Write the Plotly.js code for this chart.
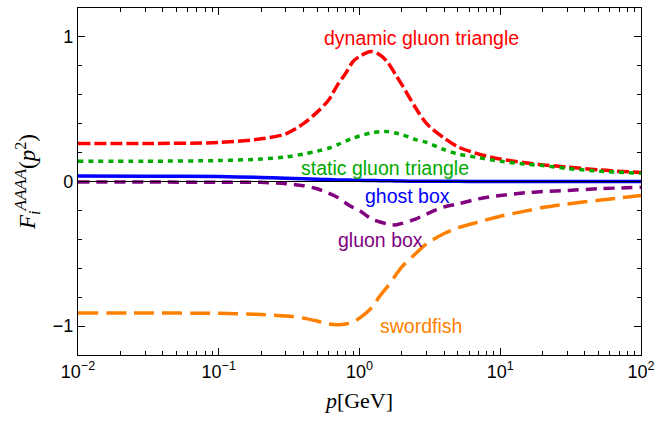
<!DOCTYPE html>
<html>
<head>
<meta charset="utf-8">
<script src="https://cdn.plot.ly/plotly-3.0.1.min.js"></script>
<style>html,body{margin:0;padding:0;background:#fff;}#chart{width:656px;height:422px;}</style>
</head>
<body>
<div id="chart"></div>
<script>
// momentum p [GeV]
const p = [0.01, 0.03, 0.1, 0.2, 0.3, 0.4, 0.5, 0.6, 0.7, 0.8, 0.9, 1.0, 1.2, 1.4, 1.6, 1.8, 2.0, 2.5, 3, 4, 5, 7, 10, 15, 20, 30, 50, 100];

const dynamicGluonTriangle = [0.262, 0.263, 0.27, 0.295, 0.33, 0.40, 0.48, 0.56, 0.67, 0.75, 0.83, 0.865, 0.90, 0.875, 0.82, 0.74, 0.67, 0.51, 0.40, 0.30, 0.24, 0.19, 0.155, 0.13, 0.115, 0.10, 0.08, 0.062];
const staticGluonTriangle = [0.14, 0.14, 0.145, 0.155, 0.17, 0.19, 0.21, 0.23, 0.255, 0.28, 0.30, 0.315, 0.335, 0.345, 0.345, 0.335, 0.325, 0.29, 0.27, 0.22, 0.19, 0.165, 0.14, 0.12, 0.11, 0.09, 0.072, 0.057];
const ghostBox = [0.038, 0.037, 0.034, 0.028, 0.022, 0.019, 0.015, 0.013, 0.011, 0.010, 0.009, 0.008, 0.007, 0.006, 0.005, 0.004, 0.003, 0.002, 0.002, 0.001, 0.001, 0.0, 0.0, 0.0, 0.0, 0.0, 0.0, 0.0];
const gluonBox = [-0.004, -0.004, -0.005, -0.006, -0.015, -0.03, -0.05, -0.08, -0.11, -0.15, -0.18, -0.20, -0.255, -0.28, -0.295, -0.30, -0.29, -0.26, -0.225, -0.175, -0.155, -0.12, -0.097, -0.078, -0.07, -0.062, -0.05, -0.04];
const swordfish = [-0.91, -0.91, -0.912, -0.92, -0.93, -0.945, -0.965, -0.985, -0.99, -0.985, -0.97, -0.945, -0.88, -0.79, -0.72, -0.65, -0.59, -0.50, -0.43, -0.36, -0.32, -0.28, -0.24, -0.205, -0.18, -0.155, -0.13, -0.097];

const seriesNames = ["dynamic gluon triangle", "static gluon triangle", "ghost box", "gluon box", "swordfish"];

const xTickVals = [0.01, 0.1, 1, 10, 100];
const xTickText = ["10<sup>\u22122</sup>", "10<sup>\u22121</sup>", "10<sup>0</sup>", "10<sup>1</sup>", "10<sup>2</sup>"];
const yTickVals = [-1, 0, 1];
const yTickText = ["\u22121", "0", "1"];

const minorX = [];
for (let e = -2; e < 2; e++) for (let m = 2; m <= 9; m++) minorX.push(m * Math.pow(10, e));

const colors = ["rgb(255,0,0)", "rgb(0,170,0)", "rgb(0,0,255)", "rgb(128,0,128)", "rgb(255,128,0)"];
const dashes = ["12px,4px", "5px,5px", "solid", "11px,7px", "20px,8px"];
const widths = [3.5, 3.5, 3.5, 3.5, 3.5];
const ys = [dynamicGluonTriangle, staticGluonTriangle, ghostBox, gluonBox, swordfish];

const traces = ys.map((y, i) => ({
  x: p, y: y, type: "scatter", mode: "lines", name: seriesNames[i],
  line: {color: colors[i], dash: dashes[i], width: widths[i], shape: "spline", smoothing: 0.8},
  hoverinfo: "skip"
}));

const labelPos = [
  {x: 0.437, y: 0.99},
  {x: 0.181, y: 0.093},
  {x: 0.341, y: -0.10},
  {x: 0.146, y: -0.405},
  {x: 0.437, y: -1.0}
];
const annotations = seriesNames.map((t, i) => ({
  text: t, x: labelPos[i].x, y: labelPos[i].y, xref: "x", yref: "y",
  showarrow: false, font: {family: "Liberation Sans, Arial, sans-serif", size: 19.5, color: colors[i]}
}));

const tickFont = {family: "Liberation Sans, Arial, sans-serif", size: 18, color: "black"};

const layout = {
  width: 656, height: 422,
  margin: {l: 78, r: 15, t: 8, b: 67},
  paper_bgcolor: "white", plot_bgcolor: "white",
  showlegend: false,
  xaxis: {
    type: "log", range: [-2, 2],
    tickmode: "array", tickvals: xTickVals, ticktext: xTickText,
    tickfont: tickFont,
    ticks: "inside", ticklen: 7, tickwidth: 1, tickcolor: "black",
    showline: true, linecolor: "black", linewidth: 1.2, mirror: "allticks",
    showgrid: false, zeroline: false,
    minor: {tickmode: "array", tickvals: minorX, ticks: "inside", ticklen: 4, tickwidth: 1, tickcolor: "black", showgrid: false},
    title: {text: "<i>p</i>[GeV]", font: {family: "Liberation Serif, Times New Roman, serif", size: 22, color: "black"}, standoff: 11}
  },
  yaxis: {
    range: [-1.2, 1.2],
    tickmode: "array", tickvals: yTickVals, ticktext: yTickText,
    tickfont: tickFont,
    ticks: "inside", ticklen: 7, tickwidth: 1, tickcolor: "black",
    showline: true, linecolor: "black", linewidth: 1.2, mirror: "allticks",
    showgrid: false, zeroline: false,
    minor: {tickmode: "linear", tick0: 0, dtick: 0.2, ticks: "inside", ticklen: 4, tickwidth: 1, tickcolor: "black", showgrid: false},
    title: {text: "<i>F</i><sub><i>i</i></sub><sup><i><span style=\"font-size:17px\">AAAA</span></i></sup>(<i>p</i><sup>2</sup>)", font: {family: "Liberation Serif, Times New Roman, serif", size: 23, color: "black"}, standoff: 10}
  },
  shapes: [{type: "line", xref: "paper", x0: 0, x1: 1, yref: "y", y0: 0, y1: 0, line: {color: "black", width: 1}, layer: "above"}],
  annotations: annotations
};

Plotly.newPlot("chart", traces, layout, {displayModeBar: false, staticPlot: true});
</script>
</body>
</html>
